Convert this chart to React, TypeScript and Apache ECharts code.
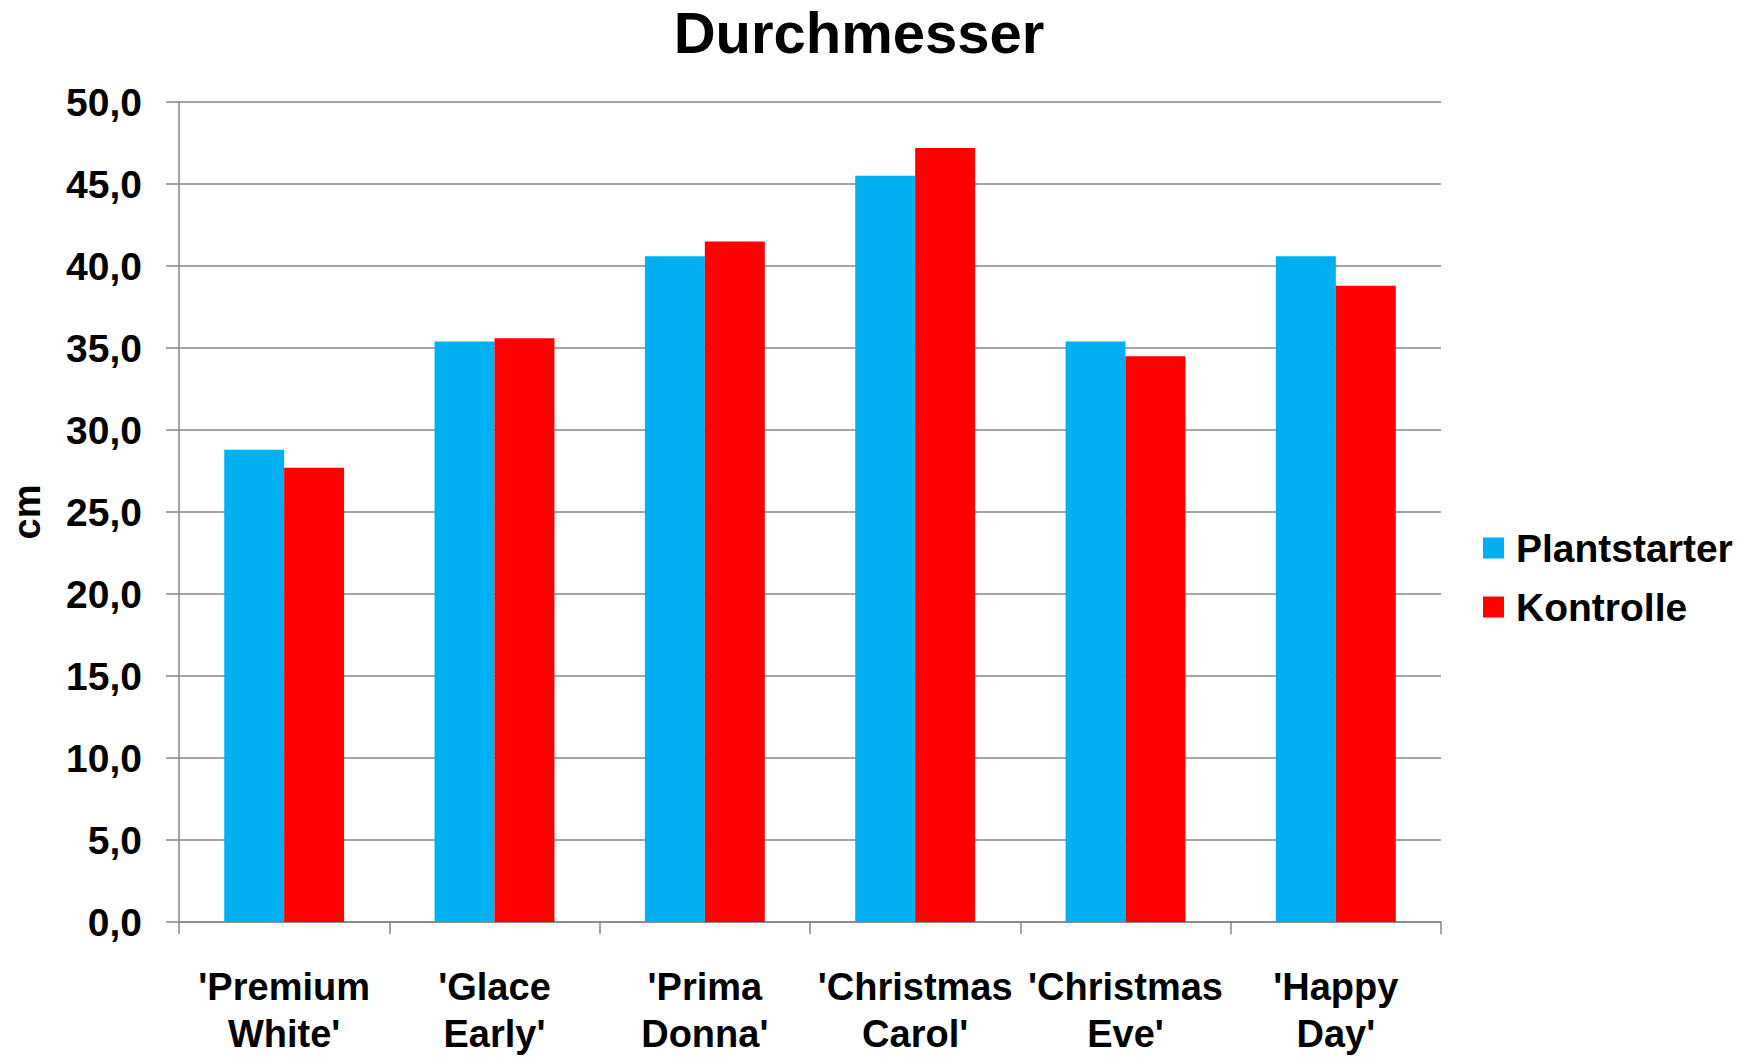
import React, { useEffect, useRef } from "react";
import * as echarts from "echarts";

const categories = [
  "'Premium\nWhite'",
  "'Glace\nEarly'",
  "'Prima\nDonna'",
  "'Christmas\nCarol'",
  "'Christmas\nEve'",
  "'Happy\nDay'",
];
const plantstarter = [28.8, 35.4, 40.6, 45.5, 35.4, 40.6];
const kontrolle = [27.7, 35.6, 41.5, 47.2, 34.5, 38.8];
const seriesNames = ["Plantstarter", "Kontrolle"];
const titleText = "Durchmesser";
const yAxisName = "cm";

const FONT = "'Liberation Sans', Arial, Helvetica, sans-serif";
const GRAY = "#868686";

export default function App() {
  const ref = useRef<HTMLDivElement>(null);
  useEffect(() => {
    document.body.style.margin = "0";
    if (!ref.current) return;
    const chart = echarts.init(ref.current, undefined, { renderer: "svg" });
    chart.setOption({
      animation: false,
      backgroundColor: "#ffffff",
      title: {
        text: titleText,
        left: 859,
        textAlign: "center",
        top: 3,
        padding: 0,
        textStyle: {
          fontFamily: FONT,
          fontWeight: "bold",
          fontSize: 58,
          lineHeight: 58,
          color: "#000",
        },
      },
      legend: {
        orient: "vertical",
        left: 1483,
        top: 528,
        padding: 0,
        itemWidth: 21,
        itemHeight: 21,
        itemGap: 19,
        icon: "rect",
        data: seriesNames,
        textStyle: {
          fontFamily: FONT,
          fontWeight: "bold",
          fontSize: 39,
          lineHeight: 40,
          color: "#000",
          padding: [0, 0, 0, 7],
        },
      },
      grid: {
        left: 173,
        right: 309,
        top: 102,
        bottom: 128,
        containLabel: false,
      },
      xAxis: {
        type: "category",
        data: categories,
        axisLine: { show: true, lineStyle: { color: GRAY, width: 1.5 } },
        axisTick: { show: true, length: 12, lineStyle: { color: GRAY, width: 1.5 } },
        axisLabel: {
          interval: 0,
          margin: 41,
          fontFamily: FONT,
          fontWeight: "bold",
          fontSize: 38,
          lineHeight: 47,
          color: "#000",
        },
        splitLine: { show: false },
      },
      yAxis: {
        type: "value",
        min: 0,
        max: 50,
        interval: 5,
        name: yAxisName,
        nameLocation: "middle",
        nameGap: 133,
        nameTextStyle: {
          fontFamily: FONT,
          fontWeight: "bold",
          fontSize: 38,
          color: "#000",
        },
        axisLine: { show: true, lineStyle: { color: GRAY, width: 1.5 } },
        axisTick: { show: true, length: 13, lineStyle: { color: GRAY, width: 1.5 } },
        axisLabel: {
          margin: 37,
          fontFamily: FONT,
          fontWeight: "bold",
          fontSize: 39,
          color: "#000",
          formatter: (v: number) => v.toFixed(1).replace(".", ","),
        },
        splitLine: { show: true, lineStyle: { color: GRAY, width: 1.5 } },
      },
      series: [
        {
          name: seriesNames[0],
          type: "bar",
          data: plantstarter,
          barGap: "0%",
          barCategoryGap: "43%",
          itemStyle: { color: "#00B0F0" },
        },
        {
          name: seriesNames[1],
          type: "bar",
          data: kontrolle,
          barGap: "0%",
          barCategoryGap: "43%",
          itemStyle: { color: "#FF0000" },
        },
      ],
    });
    return () => chart.dispose();
  }, []);
  return <div ref={ref} style={{ width: 1750, height: 1057 }} />;
}
